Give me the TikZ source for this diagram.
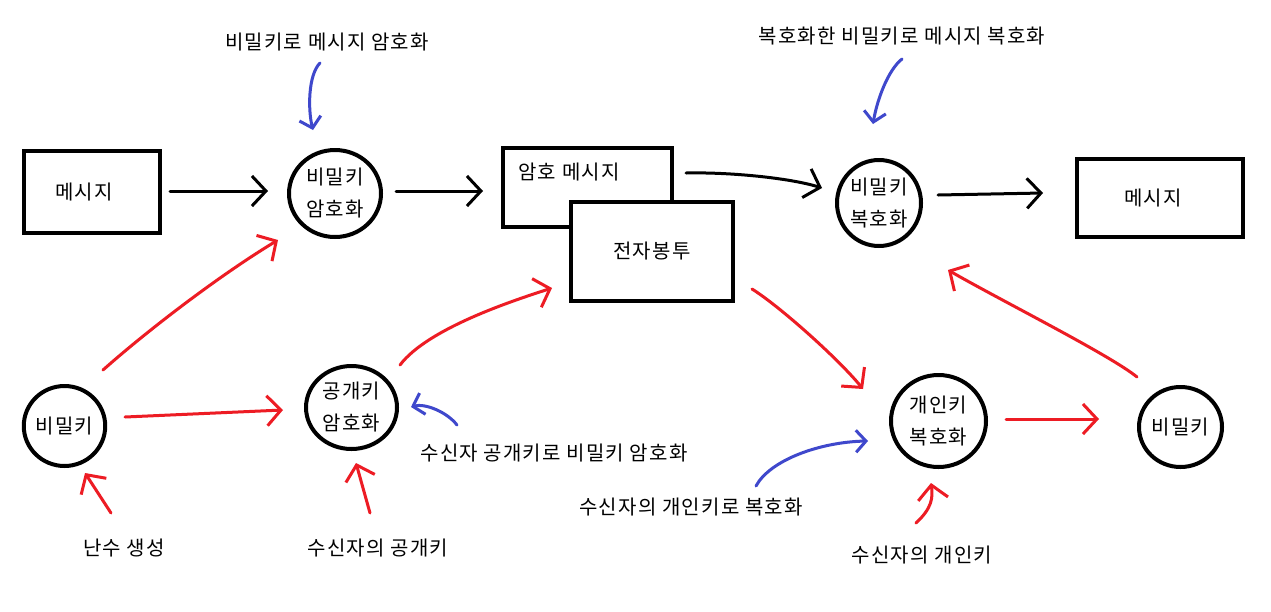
\documentclass[tikz,border=0pt]{standalone}
\usepackage{fontspec}
\setmainfont[LetterSpace=6]{Noto Sans CJK KR}
\usetikzlibrary{arrows.meta,shapes.geometric,calc}
\definecolor{pred}{RGB}{237,28,36}
\definecolor{pblue}{RGB}{63,72,204}
\begin{document}
\begin{tikzpicture}[x=1pt,y=-1pt,
  every node/.style={font=\fontsize{20}{32}\selectfont, inner sep=0pt},
  boxnode/.style={draw, line width=4pt, rectangle, fill=white},
  ovalnode/.style={draw, line width=4pt, ellipse, align=center},
  arr/.style={line width=3pt, line cap=round, line join=round},
  blk/.style={arr, black, -{Straight Barb[length=14pt,width=30pt]}},
  redarr/.style={arr, pred, -{Straight Barb[length=14pt,width=30pt]}},
  bluearr/.style={arr, pblue, -{Straight Barb[length=10pt,width=22pt]}}]
\useasboundingbox[fill=white] (0,0) rectangle (1271,611);

% boxes
\node[boxnode, minimum width=136pt, minimum height=82pt] (msg1) at (92,192) {메시지\hspace*{16pt}};
\node[boxnode, minimum width=169pt, minimum height=79pt] (cmsg) at (587.5,187.5) {};
\node (cmsgt) at (569,172) {암호 메시지};
\node[boxnode, minimum width=162pt, minimum height=99pt] (env) at (652,251.5) {전자봉투};
\node[boxnode, minimum width=166pt, minimum height=78pt] (msg2) at (1160,198) {메시지\hspace*{14pt}};

% ovals
\node[ovalnode, minimum width=92pt, minimum height=87pt] (enc1) at (335,193.5) {비밀키\\암호화};
\node[ovalnode, minimum width=84pt, minimum height=86pt] (dec1) at (879,203) {비밀키\\복호화};
\node[ovalnode, minimum width=81pt, minimum height=80pt] (sk1) at (64.5,426) {비밀키};
\node[ovalnode, minimum width=91pt, minimum height=83pt] (pkenc) at (351.5,407.5) {공개키\\암호화};
\node[ovalnode, minimum width=95pt, minimum height=92pt] (pkdec) at (938.5,421) {개인키\\복호화};
\node[ovalnode, minimum width=83pt, minimum height=80pt] (sk2) at (1180.5,427) {비밀키};

% annotations
\node (a1) at (327,42) {비밀키로 메시지 암호화};
\node (a2) at (902,36) {복호화한 비밀키로 메시지 복호화};
\node (a3) at (554,453) {수신자 공개키로 비밀키 암호화};
\node (a4) at (691,507) {수신자의 개인키로 복호화};
\node (a5) at (124,548) {난수 생성};
\node (a6) at (378,548) {수신자의 공개키};
\node (a7) at (922,555) {수신자의 개인키};

% black arrows
\draw[blk] ($(msg1)+(78,-1)$) -- ($(enc1)+(-67,-2.5)$);
\draw[blk] ($(enc1)+(61,-2.5)$) -- ($(cmsg)+(-104.5,3.5)$);
\draw[blk] ($(cmsg)+(98.5,-14.5)$) .. controls ($(cmsg)+(142.5,-15.5)$) and ($(dec1)+(-89,-25)$) .. ($(dec1)+(-57,-15)$);
\draw[blk] ($(dec1)+(59,-8)$) -- ($(msg2)+(-117,-5)$);

% red arrows
\draw[redarr] ($(sk1)+(38.5,-56)$) .. controls ($(sk1)+(83.5,-96)$) and ($(enc1)+(-115,81.5)$) .. ($(enc1)+(-57,46.5)$);
\draw[redarr] ($(sk1)+(60.5,-9)$) -- ($(pkenc)+(-68.5,2.5)$);
\draw[redarr] ($(a5)+(-13,-35)$) -- ($(sk1)+(20.5,47)$);
\draw[redarr] ($(a6)+(-8,-35)$) -- ($(pkenc)+(4.5,55.5)$);
\draw[redarr] ($(pkenc)+(48.5,-42.5)$) .. controls ($(pkenc)+(76.5,-79.5)$) and ($(env)+(-137,48.5)$) .. ($(env)+(-100,36.5)$);
\draw[redarr] ($(env)+(100,37.5)$) .. controls ($(env)+(128,55)$) and ($(pkdec)+(-100,-62)$) .. ($(pkdec)+(-75.5,-32)$);
\draw[redarr] ($(pkdec)+(67.5,-2)$) -- ($(sk2)+(-81.5,-8)$);
\draw[redarr] ($(a7)+(-6,-32)$) .. controls ($(a7)+(10,-47)$) and ($(pkdec)+(-5.5,77)$) .. ($(pkdec)+(-7.5,62)$);
\draw[redarr] ($(sk2)+(-43.5,-50)$) .. controls ($(sk2)+(-70.5,-72)$) and ($(dec1)+(121,97)$) .. ($(dec1)+(69,67)$);

% blue arrows
\draw[bluearr] ($(a1)+(-7,21)$) .. controls ($(a1)+(-19,33)$) and ($(enc1)+(-27,-83.5)$) .. ($(enc1)+(-22,-63.5)$);
\draw[bluearr] ($(a2)+(0,23)$) .. controls ($(a2)+(-14,34)$) and ($(dec1)+(-2,-103)$) .. ($(dec1)+(-6,-79)$);
\draw[bluearr] ($(a3)+(-97,-28)$) .. controls ($(a3)+(-107,-41)$) and ($(pkenc)+(73.5,-4.5)$) .. ($(pkenc)+(59.5,-0.5)$);
\draw[bluearr] ($(a4)+(65,-21)$) .. controls ($(a4)+(79,-47)$) and ($(pkdec)+(-118.5,21)$) .. ($(pkdec)+(-70.5,20)$);
\end{tikzpicture}
\end{document}
